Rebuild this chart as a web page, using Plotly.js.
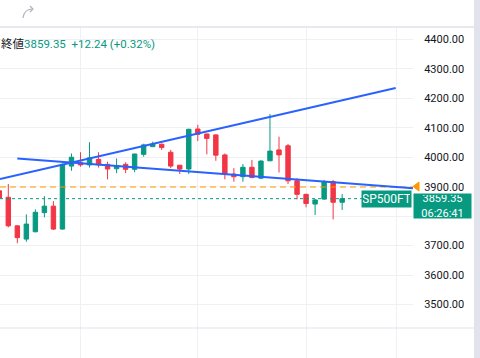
<!DOCTYPE html>
<html>
<head>
<meta charset="utf-8">
<script src="https://cdn.plot.ly/plotly-3.0.1.min.js"></script>
<style>html,body{margin:0;padding:0;background:#fff;}#chart{width:480px;height:358px;}</style>
</head>
<body>
<div id="chart"></div>
<script>
// ---- data ----
const idx   = [-1,0,1,2,3,4,5,6,7,8,9,10,11,12,13,14,15,16,17,18,19,20,21,22,23,24,25,26,27,28,29,30,31,32,33,34,35,36,37];
const opens = [3886,3864,3767,3722,3747,3812,3834,3756,3970,3983,3974,3993,3976,3961,3976,3959,4010,4036,4044,4017,3973,3960,4096,4079,4076,4008,3943,3934,3966,3929,3988,4025,4039,3920,3874,3841,3858,3917,3847.11];
const highs = [3892,3909,3769,3806,3823,3868,3851,3979,4013,4017,4051,4017,3985,3996,3983,4012,4046,4053,4047,4025,3974,4097,4110,4080,4077,4013,3963,3977,3991,3990,4147,4070,4045,3929,3876,3858,3923,3923,3875];
const lows  = [3858,3762,3708,3713,3745,3796,3753,3754,3954,3968,3965,3965,3925,3946,3946,3949,4002,4035,4025,3963,3943,3943,4055,4010,3988,3925,3917,3917,3929,3926,3987,3948,3909,3857,3830,3804,3856,3789,3821];
const closes= [3862,3767,3727,3773,3813,3834,3756,3976,4000,3974,3998,3974,3960,3971,3959,4011,4042,4045,4033,3970,3960,4095,4078,4064,4007,3943,3934,3966,3931,3987,4021,4008,3920,3874,3843,3855,3917,3847.11,3859.35];

const upperTrendX = [-0.92, 42.93];
const upperTrendY = [3926, 4235];
const lowerTrendX = [1.0, 44.85];
const lowerTrendY = [3996, 3894.5];

const alertLevel = 3899;
const lastPrice = 3859.35;
const change = "+12.24";
const changePct = "(+0.32%)";
const symbol = "SP500FT";
const countdown = "06:26:41";

const yTicks = [3500,3600,3700,3800,3900,4000,4100,4200,4300,4400];
// the 3800 label sits under the last-price box in the reference
const yTickText = ["3500.00","3600.00","3700.00","","3900.00","4000.00","4100.00","4200.00","4300.00","4400.00"];
const xGrid = [8,21,33,43];

// ---- layout helpers (pixel -> paper) ----
const PL=0, PR=413, PT=27, PB=358;
const px = v => (v-PL)/(PR-PL);
const py = v => 1-(v-PT)/(PB-PT);

const GREEN="#089981", RED="#f23645", BLUE="#2962ff";
const xr=[-0.92,44.85];

const traces = [
  {type:'candlestick', x:idx, open:opens, high:highs, low:lows, close:closes,
   increasing:{line:{color:GREEN,width:1}, fillcolor:GREEN},
   decreasing:{line:{color:RED,width:1}, fillcolor:RED},
   whiskerwidth:0, showlegend:false, hoverinfo:'skip'},
  {type:'scatter', mode:'lines', x:[xr[0],xr[1]], y:[alertLevel,alertLevel],
   line:{color:'rgba(255,152,0,0.5)', width:2, dash:'6px,4px'}, showlegend:false, hoverinfo:'skip'},
  {type:'scatter', mode:'lines', x:[xr[0],xr[1]], y:[lastPrice,lastPrice],
   line:{color:GREEN, width:1, dash:'dot'}, showlegend:false, hoverinfo:'skip'},
  {type:'scatter', mode:'lines', x:upperTrendX, y:upperTrendY,
   line:{color:BLUE, width:2}, showlegend:false, hoverinfo:'skip'},
  {type:'scatter', mode:'lines', x:lowerTrendX, y:lowerTrendY,
   line:{color:BLUE, width:2}, showlegend:false, hoverinfo:'skip'}
];

const layout = {
  width:480, height:358,
  margin:{l:PL, r:480-PR, t:PT, b:358-PB, pad:0},
  paper_bgcolor:'#ffffff', plot_bgcolor:'#ffffff',
  showlegend:false,
  boxgap:0.3,
  font:{family:'Roboto, "Noto Sans CJK JP", sans-serif', size:11, color:'#131722'},
  xaxis:{range:xr, tickvals:xGrid, showticklabels:false, showgrid:true, gridcolor:'#eef0f4',
         zeroline:false, showline:false, ticks:'', rangeslider:{visible:false}, fixedrange:true},
  yaxis:{side:'right', range:[3318.1,4442.5], tickvals:yTicks, ticktext:yTickText,
         showgrid:true, gridcolor:'#eef0f4', zeroline:false, showline:false,
         ticks:'outside', ticklen:8, tickcolor:'rgba(0,0,0,0)',
         tickfont:{size:11, color:'#131722'}, fixedrange:true},
  shapes:[
    {type:'line', xref:'paper', yref:'paper', x0:px(0), x1:px(475), y0:py(27), y1:py(27), line:{color:'#dfe2ea', width:1.5}},
    {type:'line', xref:'paper', yref:'paper', x0:px(0), x1:px(475), y0:py(328), y1:py(328), line:{color:'#e0e3eb', width:1}},
    {type:'rect', xref:'paper', yref:'paper', x0:px(474), x1:px(481), y0:py(0), y1:py(359), fillcolor:'#e0e3eb', line:{width:0}},
    {type:'path', xref:'paper', yref:'paper',
     path:`M ${px(413)},${py(186.5)} L ${px(419)},${py(182)} L ${px(419)},${py(191)} Z`,
     fillcolor:'#ff9800', line:{color:'#ff9800', width:1}},
    {type:'path', xref:'paper', yref:'paper',
     path:`M ${px(23)},${py(18)} Q ${px(24)},${py(9)} ${px(33)},${py(9)} M ${px(30)},${py(6)} L ${px(33)},${py(9)} L ${px(30)},${py(12)}`,
     line:{color:'#b2b5be', width:1.2}}
  ],
  annotations:[
    {xref:'paper', yref:'paper', x:px(-1), y:py(44), xanchor:'left', yanchor:'middle', showarrow:false,
     text:`<span style="color:#131722">終値</span><span style="color:${GREEN}">${lastPrice.toFixed(2)}  ${change} ${changePct}</span>`,
     font:{size:11.5, family:'Roboto, "Noto Sans CJK JP", sans-serif'}},
    {xref:'paper', yref:'y', x:px(412), y:lastPrice, xanchor:'right', yanchor:'middle', showarrow:false,
     text:symbol, bgcolor:GREEN, font:{color:'#ffffff', size:12}, width:47, height:14, borderpad:1},
    {xref:'paper', yref:'paper', x:px(413), y:py(206), xanchor:'left', yanchor:'middle', showarrow:false,
     text:`${lastPrice.toFixed(2)}<br>${countdown}`, bgcolor:GREEN, font:{color:'#ffffff', size:11},
     width:55, height:22, borderpad:1, align:'center'}
  ]
};

Plotly.newPlot('chart', traces, layout, {displayModeBar:false, staticPlot:true});
</script>
</body>
</html>
